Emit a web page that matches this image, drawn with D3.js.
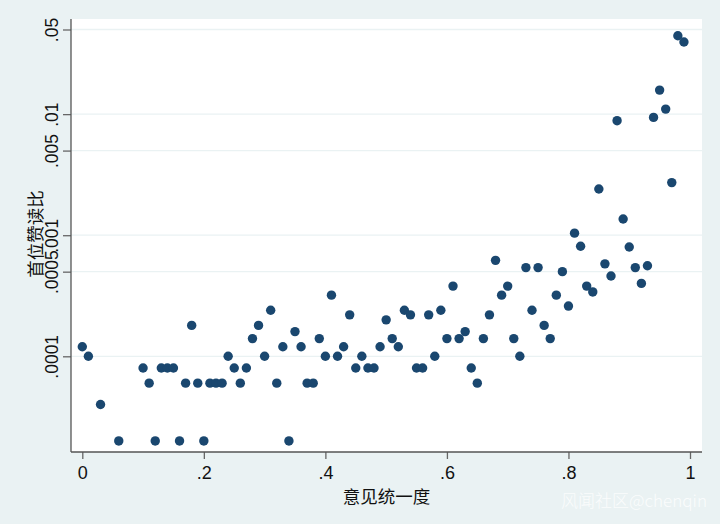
<!DOCTYPE html>
<html>
<head>
<meta charset="utf-8">
<script src="https://cdn.jsdelivr.net/npm/d3@7"></script>
<style>
  html, body { margin: 0; padding: 0; background: #eaf2f3; }
  svg { display: block; }
</style>
</head>
<body>
<svg id="chart" width="720" height="524"></svg>
<script>
const xValues = [0.00,0.01,0.03,0.06,0.10,0.11,0.12,0.13,0.14,0.15,0.16,0.17,0.18,0.19,0.20,0.21,0.22,0.23,0.24,0.25,0.26,0.27,0.28,0.29,0.30,0.31,0.32,0.33,0.34,0.35,0.36,0.37,0.38,0.39,0.40,0.41,0.42,0.43,0.44,0.45,0.46,0.47,0.48,0.49,0.50,0.51,0.52,0.53,0.54,0.55,0.56,0.57,0.58,0.59,0.60,0.61,0.62,0.63,0.64,0.65,0.66,0.67,0.68,0.69,0.70,0.71,0.72,0.73,0.74,0.75,0.76,0.77,0.78,0.79,0.80,0.81,0.82,0.83,0.84,0.85,0.86,0.87,0.88,0.89,0.90,0.91,0.92,0.93,0.94,0.95,0.96,0.97,0.98,0.99];
const yValues = [1.2e-4,1.0e-4,4e-5,2e-5,8e-5,6e-5,2e-5,8e-5,8e-5,8e-5,2e-5,6e-5,1.8e-4,6e-5,2e-5,6e-5,6e-5,6e-5,1e-4,8e-5,6e-5,8e-5,1.4e-4,1.8e-4,1e-4,2.4e-4,6e-5,1.2e-4,2e-5,1.6e-4,1.2e-4,6e-5,6e-5,1.4e-4,1e-4,3.2e-4,1e-4,1.2e-4,2.2e-4,8e-5,1e-4,8e-5,8e-5,1.2e-4,2e-4,1.4e-4,1.2e-4,2.4e-4,2.2e-4,8e-5,8e-5,2.2e-4,1e-4,2.4e-4,1.4e-4,3.8e-4,1.4e-4,1.6e-4,8e-5,6e-5,1.4e-4,2.2e-4,6.2e-4,3.2e-4,3.8e-4,1.4e-4,1e-4,5.4e-4,2.4e-4,5.4e-4,1.8e-4,1.4e-4,3.2e-4,5e-4,2.6e-4,1.04e-3,8.1e-4,3.8e-4,3.4e-4,2.41e-3,5.8e-4,4.6e-4,8.83e-3,1.36e-3,8e-4,5.4e-4,4e-4,5.6e-4,9.4e-3,1.58e-2,1.10e-2,2.72e-3,4.44e-2,3.94e-2];
const xTicks = [0, 0.2, 0.4, 0.6, 0.8, 1];
const xTickLabels = ["0", ".2", ".4", ".6", ".8", "1"];
const yTicks = [0.0001, 0.0005, 0.001, 0.005, 0.01, 0.05];
const yTickLabels = [".0001", ".0005", ".001", ".005", ".01", ".05"];
const xTitle = "意见统一度";
const yTitle = "首位赞读比";
const watermark = "风闻社区@chenqin";

const svg = d3.select("#chart");
const plot = {left: 71, right: 702, top: 19, bottom: 452};

const x = d3.scaleLinear().domain([0, 1]).range([82.3, 690]);
const y = d3.scaleLog().domain([0.0001, 0.05]).range([356.3, 29.5]);

svg.append("rect").attr("x", 0).attr("y", 0).attr("width", 720).attr("height", 524).attr("fill", "#eaf2f3");
svg.append("rect").attr("x", plot.left).attr("y", plot.top)
  .attr("width", plot.right - plot.left).attr("height", plot.bottom - plot.top).attr("fill", "#ffffff");

// gridlines
svg.append("g").selectAll("line").data(yTicks).join("line")
  .attr("x1", plot.left).attr("x2", plot.right)
  .attr("y1", d => y(d)).attr("y2", d => y(d))
  .attr("stroke", "#eaf2f3").attr("stroke-width", 1.3);

const font = "'Liberation Sans', Arial, sans-serif";
const cjk = "'Noto Sans CJK SC', sans-serif";

// X axis
const xAxis = d3.axisBottom(x).tickValues(xTicks)
  .tickFormat((d, i) => xTickLabels[i]).tickSize(7).tickSizeOuter(0).tickPadding(7);
const gx = svg.append("g").attr("transform", `translate(0,${plot.bottom})`).call(xAxis);
gx.select(".domain").remove();
gx.append("line").attr("x1", plot.left).attr("x2", plot.right).attr("y1", 0).attr("y2", 0)
  .attr("stroke", "#555").attr("stroke-width", 1.3);
gx.selectAll(".tick line").attr("stroke", "#666").attr("stroke-width", 1.3);
gx.selectAll(".tick text").attr("fill", "#111").style("font-family", font).style("font-size", "18px");

// Y axis
const yAxis = d3.axisLeft(y).tickValues(yTicks)
  .tickFormat((d, i) => yTickLabels[i]).tickSize(8).tickSizeOuter(0);
const gy = svg.append("g").attr("transform", `translate(${plot.left},0)`).call(yAxis);
gy.select(".domain").remove();
gy.append("line").attr("x1", 0).attr("x2", 0).attr("y1", plot.top).attr("y2", plot.bottom)
  .attr("stroke", "#555").attr("stroke-width", 1.3);
gy.selectAll(".tick line").attr("stroke", "#666").attr("stroke-width", 1.3);
gy.selectAll(".tick text")
  .attr("x", 0).attr("dy", null).attr("y", 0)
  .attr("transform", "translate(-13.5,0) rotate(-90)")
  .attr("text-anchor", "middle")
  .attr("fill", "#111").style("font-family", font).style("font-size", "17.5px");

// Titles
svg.append("text").attr("x", (plot.left + plot.right) / 2).attr("y", 495)
  .attr("text-anchor", "middle").attr("dominant-baseline", "central")
  .attr("fill", "#111").style("font-family", cjk).style("font-size", "17.5px").text(xTitle);
svg.append("text").attr("transform", `translate(34.5,234) rotate(-90)`)
  .attr("text-anchor", "middle").attr("dominant-baseline", "central")
  .attr("fill", "#111").style("font-family", cjk).style("font-size", "17.5px").text(yTitle);

// Points
const pts = xValues.map((d, i) => ({x: d, y: yValues[i]}));
svg.append("g").selectAll("circle").data(pts).join("circle")
  .attr("cx", d => x(d.x)).attr("cy", d => y(d.y)).attr("r", 4.7)
  .attr("fill", "#1a476f");

// Watermark
svg.append("text").attr("x", 707).attr("y", 499).attr("text-anchor", "end")
  .attr("dominant-baseline", "central")
  .attr("fill", "#ffffff").attr("fill-opacity", 0.8)
  .style("font-family", cjk).style("font-weight", 300).style("font-size", "17px").text(watermark);
</script>
</body>
</html>
